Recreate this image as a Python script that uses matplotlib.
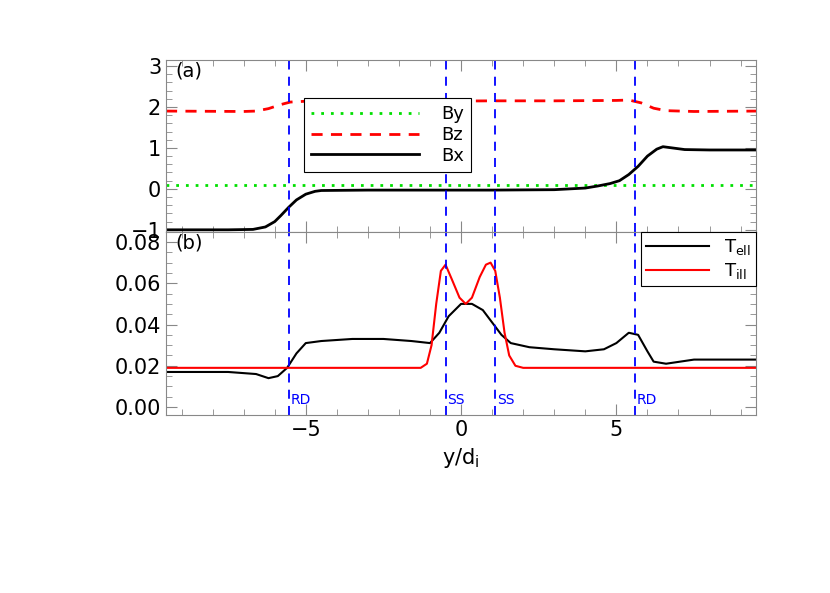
import matplotlib
matplotlib.use("Agg")
import matplotlib.pyplot as plt
from matplotlib.ticker import MultipleLocator

# panel (a) field components
x_b = [-9.5, -7.5, -6.7, -6.3, -6.0, -5.8, -5.55, -5.3, -5.0, -4.7, -4.5, -3.0, -1.0, 1.0, 3.0, 4.0,
       4.4, 4.8, 5.1, 5.4, 5.7, 6.0, 6.3, 6.5, 6.8, 7.2, 8.0, 9.5]
bx = [-1.0, -1.0, -0.99, -0.93, -0.8, -0.65, -0.45, -0.27, -0.13, -0.06, -0.04, -0.03, -0.03, -0.03,
      -0.02, 0.02, 0.07, 0.13, 0.2, 0.35, 0.55, 0.8, 0.97, 1.03, 1.0, 0.96, 0.95, 0.95]
x_bz = [-9.5, -7.0, -6.6, -6.2, -5.8, -5.5, -5.0, -3.0, -1.0, 1.0, 3.0, 5.0, 5.4, 5.8, 6.2, 6.6, 7.5, 9.5]
bz = [1.9, 1.89, 1.9, 1.96, 2.06, 2.12, 2.14, 2.14, 2.14, 2.15, 2.15, 2.16, 2.17, 2.1, 1.97, 1.91, 1.89, 1.9]
x_by = [-9.5, 9.5]
by = [0.1, 0.1]

# panel (b) temperatures
x_te = [-9.5, -7.5, -6.6, -6.2, -5.9, -5.6, -5.3, -5.0, -4.5, -3.5, -2.5, -1.6, -1.0, -0.7, -0.4,
        0.0, 0.35, 0.7, 1.0, 1.3, 1.6, 2.2, 3.0, 4.0, 4.6, 5.0, 5.4, 5.7, 6.0, 6.2, 6.6, 7.5, 9.5]
te = [0.017, 0.017, 0.016, 0.014, 0.015, 0.019, 0.026, 0.031, 0.032, 0.033, 0.033, 0.032, 0.031,
      0.036, 0.044, 0.05, 0.05, 0.047, 0.041, 0.035, 0.031, 0.029, 0.028, 0.027, 0.028, 0.031,
      0.036, 0.035, 0.027, 0.022, 0.021, 0.023, 0.023]
x_ti = [-9.5, -3.0, -1.3, -1.1, -0.95, -0.8, -0.65, -0.5, -0.3, -0.05, 0.15, 0.35, 0.6, 0.8, 0.95,
        1.1, 1.25, 1.4, 1.55, 1.75, 2.0, 5.0, 9.5]
ti = [0.019, 0.019, 0.019, 0.021, 0.03, 0.05, 0.066, 0.069, 0.062, 0.053, 0.05, 0.053, 0.063, 0.069,
      0.07, 0.066, 0.053, 0.036, 0.025, 0.02, 0.019, 0.019, 0.019]

lines_x = [-5.55, -0.5, 1.1, 5.6]
lines_lab = ["RD", "SS", "SS", "RD"]

fig = plt.figure(figsize=(8.3, 5.93), dpi=100)
ax1 = fig.add_axes([0.2, 0.609, 0.711, 0.29])
ax2 = fig.add_axes([0.2, 0.30, 0.711, 0.309], sharex=ax1)

ax1.plot(x_by, by, color="#00e000", ls=(0, (1, 2.5)), lw=2, label="By")
ax1.plot(x_bz, bz, color="red", ls=(0, (4, 3)), lw=2, label="Bz")
ax1.plot(x_b, bx, color="black", lw=2, label="Bx")
ax1.set_ylim(-1.05, 3.15)
ax1.set_yticks([-1, 0, 1, 2, 3])
ax1.yaxis.set_minor_locator(MultipleLocator(0.2))
ax1.text(-9.2, 2.75, "(a)", fontsize=14)
leg = ax1.legend(loc="upper left", bbox_to_anchor=(0.218, 0.83), fontsize=13, frameon=True,
                 fancybox=False, edgecolor="black", handlelength=6.0, handletextpad=1.2,
                 borderpad=0.4, labelspacing=0.15, framealpha=1)
leg.get_frame().set_linewidth(0.8)
plt.setp(ax1.get_xticklabels(), visible=False)

ax2.plot(x_te, te, color="black", lw=1.5, label=r"$\mathrm{T_{ell}}$")
ax2.plot(x_ti, ti, color="red", lw=1.5, label=r"$\mathrm{T_{ill}}$")
ax2.set_ylim(-0.0039, 0.0849)
ax2.set_yticks([0.0, 0.02, 0.04, 0.06, 0.08])
ax2.set_yticklabels(["0.00", "0.02", "0.04", "0.06", "0.08"])
ax2.yaxis.set_minor_locator(MultipleLocator(0.005))
ax2.text(-9.2, 0.077, "(b)", fontsize=14)
leg2 = ax2.legend(loc="upper right", fontsize=13, frameon=True, fancybox=False, edgecolor="black",
                  handlelength=3.5, borderpad=0.3, labelspacing=0.2, borderaxespad=0, framealpha=1)
leg2.get_frame().set_linewidth(0.8)

for ax in (ax1, ax2):
    for xv in lines_x:
        ax.axvline(xv, color="blue", ls=(0, (5, 4)), lw=1.3)
    ax.set_xlim(-9.5, 9.5)
    ax.xaxis.set_minor_locator(MultipleLocator(1))
    ax.tick_params(which="both", direction="in", top=True, right=True, labelsize=15,
                   color="#888888")
    ax.tick_params(which="major", length=8)
    ax.tick_params(which="minor", length=4)
    for s in ax.spines.values():
        s.set_color("#888888")
for xv, lab in zip(lines_x, lines_lab):
    ax2.text(xv + 0.05, 0.0, lab, color="blue", fontsize=10, va="bottom")

ax2.set_xticks([-5, 0, 5])
ax2.set_xlabel(r"y/d$_\mathrm{i}$", fontsize=15)

fig.savefig("out.png", dpi=100)
